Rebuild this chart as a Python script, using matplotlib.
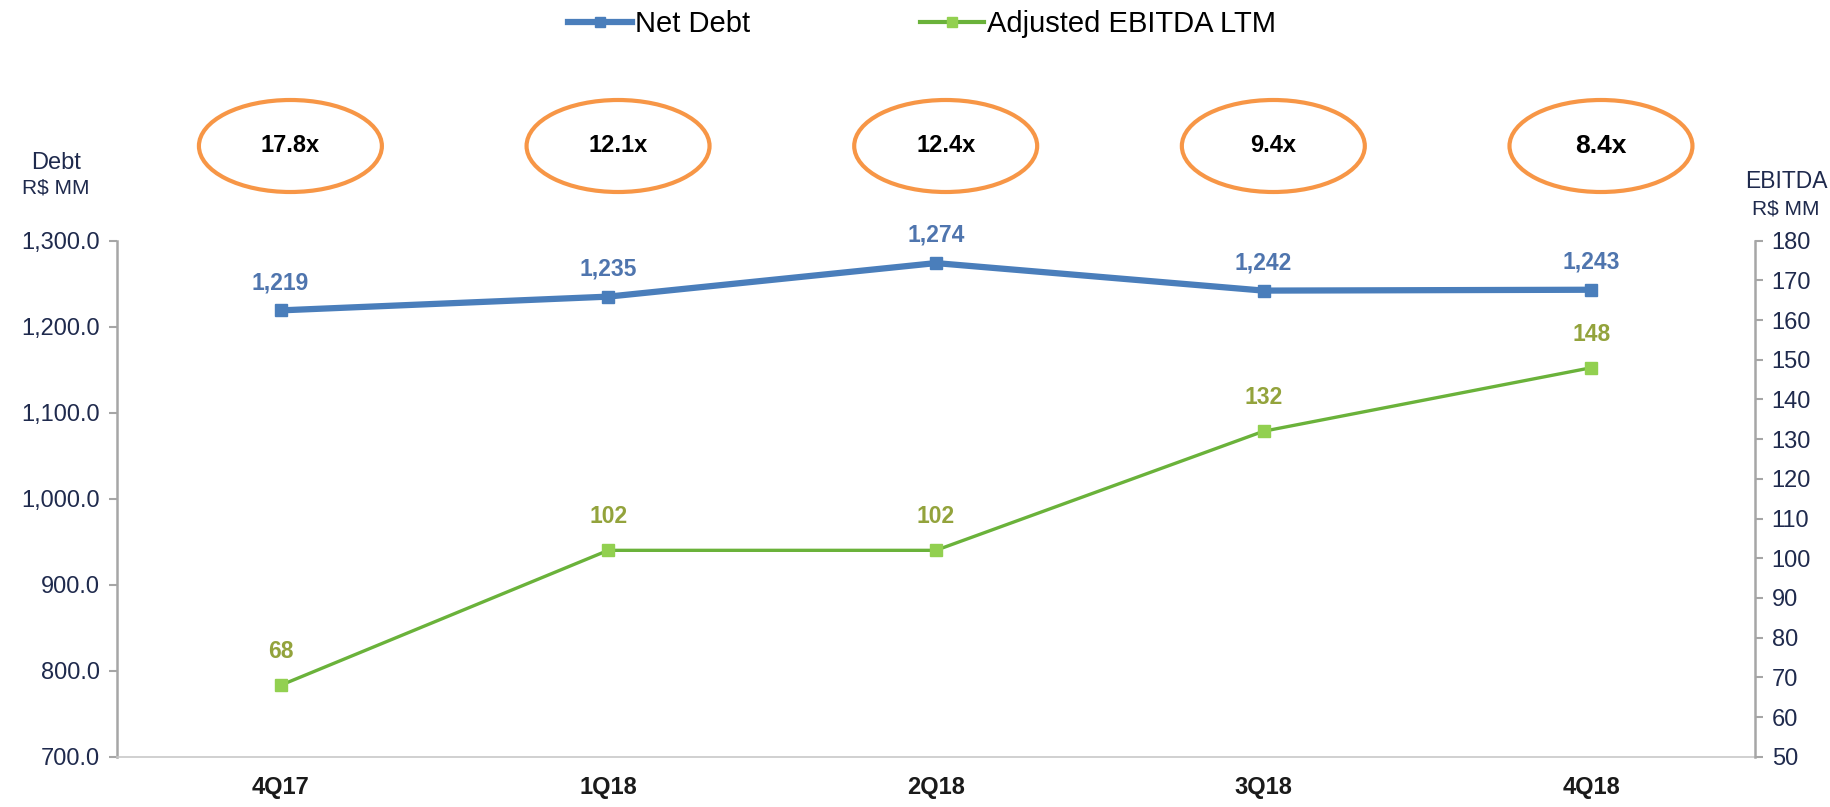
import matplotlib
matplotlib.use("Agg")
import matplotlib.pyplot as plt
from matplotlib.patches import Ellipse
from matplotlib.lines import Line2D
import matplotlib.transforms as mtransforms

categories = ["4Q17", "1Q18", "2Q18", "3Q18", "4Q18"]
net_debt = [1219, 1235, 1274, 1242, 1243]
ebitda = [68, 102, 102, 132, 148]
multiples = ["17.8x", "12.1x", "12.4x", "9.4x", "8.4x"]
left_ticks = [700, 800, 900, 1000, 1100, 1200, 1300]
right_ticks = list(range(50, 181, 10))

FONT = ["Liberation Sans", "DejaVu Sans"]
plt.rcParams['font.family'] = FONT

blue = "#4A7EBB"
blue_lbl = "#4F75AE"
green_line = "#6AB23A"
green_mk = "#92D050"
green_lbl = "#93A33C"
orange = "#F79646"
navy = "#1F2A4D"
grey = "#A6A6A6"

fig = plt.figure(figsize=(18.30, 8.07), dpi=100)
ax = fig.add_axes([0.0638, 0.0623, 0.959 - 0.0638, 0.7017 - 0.0623])
ax2 = ax.twinx()

x = list(range(len(categories)))

ax.plot(x, net_debt, color=blue, lw=4.5, marker='s', ms=9, mfc=blue, mec=blue, zorder=3)
ax2.plot(x, ebitda, color=green_line, lw=2.4, marker='s', ms=9, mfc=green_mk, mec=green_mk, zorder=3)

ax.set_xlim(-0.5, 4.5)
ax.set_ylim(700, 1300)
ax2.set_ylim(50, 180)
ax.set_yticks(left_ticks)
ax.set_yticklabels([f"{v:,.1f}" for v in left_ticks])
ax2.set_yticks(right_ticks)
ax2.set_yticklabels([str(v) for v in right_ticks])
ax.set_xticks(x)
ax.set_xticklabels(categories, fontweight='bold', fontsize=17, color="#1A1A1A")
ax.tick_params(axis='x', length=0, pad=14)

ax.spines['top'].set_visible(False)
ax2.spines['top'].set_visible(False)
ax.spines['right'].set_visible(False)
ax2.spines['left'].set_visible(False)
ax2.spines['bottom'].set_visible(False)
ax.spines['left'].set_color(grey)
ax.spines['left'].set_linewidth(1.8)
ax2.spines['right'].set_color(grey)
ax2.spines['right'].set_linewidth(1.8)
ax.spines['bottom'].set_color("#C8C8C8")
ax.spines['bottom'].set_linewidth(1.2)
ax.spines['bottom'].set_linestyle((0, (2, 1)))

ax.tick_params(axis='y', length=6, width=1.5, color=grey, labelsize=17, labelcolor=navy, pad=6)
ax2.tick_params(axis='y', length=6, width=1.5, color=grey, labelsize=17, labelcolor=navy, pad=6)

for xi, v in zip(x, net_debt):
    ax.annotate(f"{v:,}", (xi, v), xytext=(0, 20), textcoords='offset points',
                ha='center', va='center', fontsize=16.5, fontweight='bold', color=blue_lbl)
for xi, v in zip(x, ebitda):
    ax2.annotate(f"{v}", (xi, v), xytext=(0, 24), textcoords='offset points',
                 ha='center', va='center', fontsize=16.5, fontweight='bold', color=green_lbl)

# multiples ellipses
trans = mtransforms.blended_transform_factory(ax.transData, fig.transFigure)
yc = 1 - 146 / 807
for xi, m in zip(x, multiples):
    w_data = 183 / 327.7
    h_fig = 92 / 807
    e = Ellipse((xi + 0.03, yc), w_data, h_fig, transform=trans, fill=False,
                edgecolor=orange, lw=3.0, clip_on=False)
    fig.add_artist(e)
    big = m == "8.4x"
    ax.text(xi + 0.03, yc, m, transform=trans, ha='center', va='center',
            fontsize=19 if big else 17, fontweight='bold', color='black', clip_on=False)

# axis titles
fig.text(56 / 1830, 1 - 163 / 807, "Debt", ha='center', va='center', fontsize=17, color=navy)
fig.text(56 / 1830, 1 - 188 / 807, "R$ MM", ha='center', va='center', fontsize=15, color=navy)
fig.text(1786 / 1830, 1 - 181 / 807, "EBITDA", ha='center', va='center', fontsize=16.5, color=navy)
fig.text(1786 / 1830, 1 - 209 / 807, "R$ MM", ha='center', va='center', fontsize=15, color=navy)

# legend
h1 = Line2D([], [], color=blue, lw=4.5, marker='s', ms=7, mfc=blue, mec=blue)
h2 = Line2D([], [], color=green_line, lw=3, marker='s', ms=7, mfc=green_mk, mec=green_mk)
fig.legend([h1, h2], ["Net Debt", "Adjusted EBITDA LTM"], loc='center',
           bbox_to_anchor=(922 / 1830, 1 - 24 / 807), ncol=2, frameon=False,
           fontsize=21, handlelength=2.2, handletextpad=0.1, columnspacing=5.8)

fig.savefig("out.png", dpi=100)
